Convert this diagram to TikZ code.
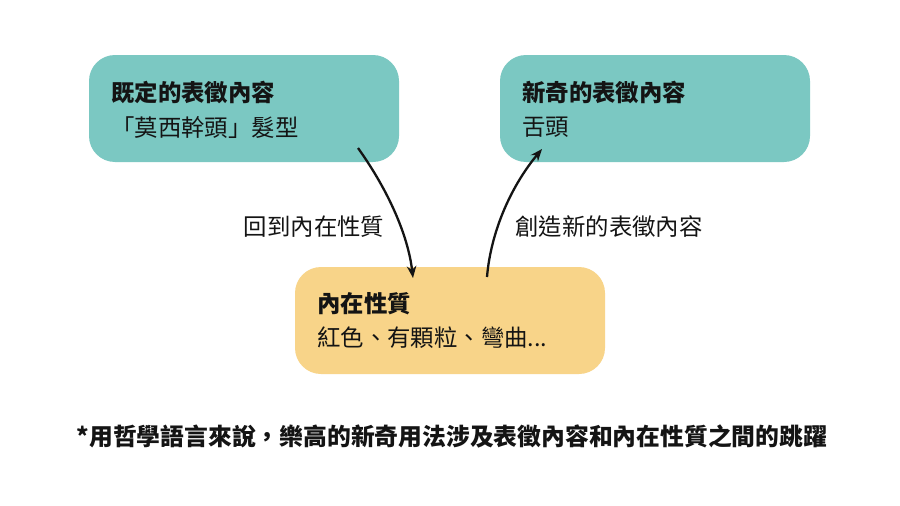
\documentclass[tikz,border=0pt]{standalone}
\usepackage{fontspec}
\setmainfont{Noto Sans CJK TC}
\usetikzlibrary{arrows.meta}
\definecolor{tealbox}{RGB}{123,200,194}
\definecolor{yellowbox}{RGB}{248,212,137}
\definecolor{ink}{RGB}{20,20,20}
\tikzset{
  box/.style={rectangle, rounded corners=26pt, minimum width=310pt, minimum height=107pt, inner sep=0pt, draw=none},
  txt/.style={anchor=west, inner sep=0pt, text=ink, font=\fontsize{23.4}{28}\selectfont},
  title/.style={txt, font=\fontsize{23.4}{28}\selectfont\bfseries},
  notestyle/.style={txt, font=\fontsize{23.8}{28}\selectfont\bfseries},
  arr/.style={line width=2.3pt, ink, -{Stealth[length=12pt,width=9.5pt]}},
}
\begin{document}
\begin{tikzpicture}[x=1pt,y=-1pt]
\useasboundingbox[fill=white] (0,0) rectangle (900,506);
\node[box, fill=tealbox] (old) at (244,108.5) {};
\node[box, fill=tealbox] (new) at (655,108.5) {};
\node[box, fill=yellowbox] (inner) at (450,320.5) {};
\node[title] (oldt) at (111,92) {既定的表徵內容};
\node[txt] (olds) at (111,127) {「莫西幹頭」髮型};
\node[title] (newt) at (522,92) {新奇的表徵內容};
\node[txt] (news) at (522,127) {舌頭};
\node[title] (innert) at (317,304) {內在性質};
\node[txt] (inners) at (317,338) {紅色、有顆粒、彎曲...};
\node[txt, anchor=center] (lab1) at (314,227) {回到內在性質};
\node[txt, anchor=center] (lab2) at (609,227) {創造新的表徵內容};
\node[notestyle, anchor=center] (note) at (452,436) {*用哲學語言來說，樂高的新奇用法涉及表徵內容和內在性質之間的跳躍};
\coordinate (a1s) at (358,148);
\coordinate (a1e) at (413,278);
\coordinate (a2s) at (487,277);
\coordinate (a2e) at (542,149);
\draw[arr] (a1s) .. controls (388,190) and (408,235) .. (a1e);
\draw[arr] (a2s) .. controls (491,230) and (512,185) .. (a2e);
\end{tikzpicture}
\end{document}
